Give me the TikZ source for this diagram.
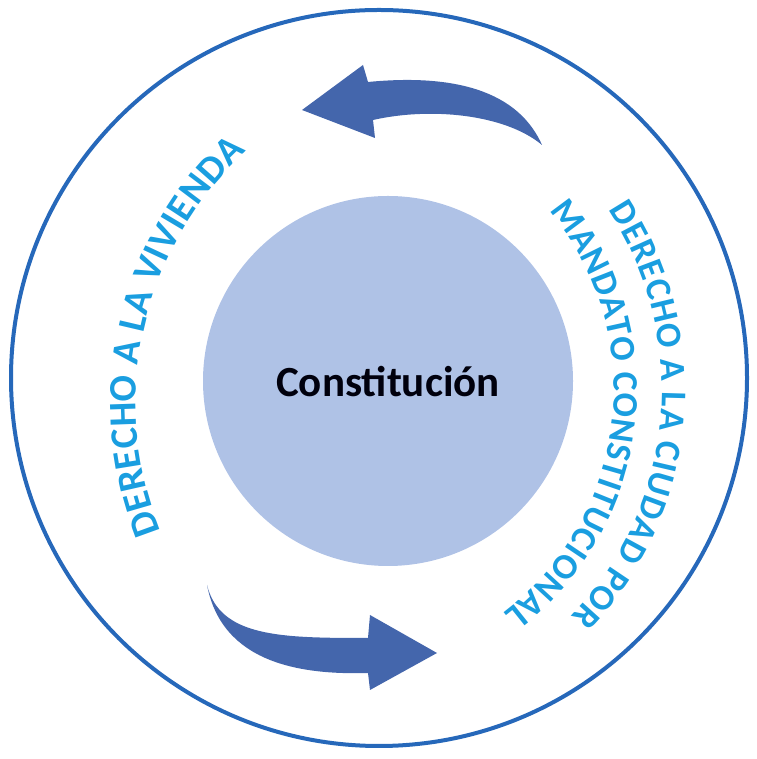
\documentclass[tikz,border=0pt]{standalone}
\usepackage{fontspec}
\setmainfont{Carlito}
\definecolor{ringblue}{RGB}{38,104,186}
\definecolor{coreblue}{RGB}{175,194,230}
\definecolor{arrowblue}{RGB}{68,102,172}
\definecolor{labelcyan}{RGB}{26,158,224}
\def\arcsize{38}
\newcommand{\arcfont}{\bfseries\fontsize{\arcsize}{\arcsize}\selectfont}

% letters set one by one along a clockwise arc, tops outward;
% '*' in the list stands for a word gap
\newlength{\chw}
\newlength{\chtotal}
\newcount\chn
\newcommand{\wordgap}{0.23\dimexpr\arcsize pt\relax}
\newcommand{\letterwidth}[1]{%
  \settowidth{\chw}{\pgfinterruptpicture\arcfont#1\endpgfinterruptpicture}}
\newcommand{\curvedlabel}[7]{% #1 name, #2 centre, #3 radius, #4 start, #5 end, #6 size, #7 letters
  \def\arcsize{#6}%
  \global\chtotal=0pt\relax
  \global\chn=0\relax
  \foreach \ch in {#7}{%
    \if\ch*\global\advance\chtotal by \wordgap\relax
    \else\letterwidth{\ch}\global\advance\chtotal by \chw\relax\fi
    \global\advance\chn by 1\relax
  }%
  \pgfmathsetmacro\trk{(((#4)-(#5))*pi/180*(#3)-\chtotal)/\the\chn}%
  \xdef\curang{#4}%
  \foreach \ch [count=\i] in {#7}{%
    \if\ch*\setlength{\chw}{\wordgap}\else\letterwidth{\ch}\fi
    \pgfmathsetmacro\half{(\chw+\trk)/2/(#3)*180/pi}%
    \pgfmathsetmacro\mid{\curang-\half}%
    \if\ch*\else
      \node[arcletter, rotate=\mid-90] (#1-\i) at ([shift={(\mid:#3)}]#2) {\ch};
    \fi
    \pgfmathsetmacro\nxt{\curang-2*\half}%
    \xdef\curang{\nxt}%
  }%
}

\begin{document}
\begin{tikzpicture}[x=1pt,y=1pt,
  arcarrow/.style={fill=arrowblue, draw=none},
  arcletter/.style={inner sep=0pt, anchor=base, font=\arcfont, text=labelcyan}
]
\useasboundingbox (0,0) rectangle (756,759);

% outer ring and central disc
\node[circle, draw=ringblue, line width=4pt, minimum size=736pt, inner sep=0pt] (ring) at (379,381) {};
\node[circle, fill=coreblue, minimum size=370pt, inner sep=0pt] (core) at (388,378) {};
\node[anchor=base, font=\bfseries\fontsize{43}{43}\selectfont, text=black!95!blue] (title) at (388,362) {Constitución};

% curved labels
\coordinate (lc) at (478,356);
\coordinate (rc) at (335,369);
\curvedlabel{viv}{lc}{342}{202}{132.5}{39}{D,E,R,E,C,H,O,*,A,*,L,A,*,V,I,V,I,E,N,D,A}
\curvedlabel{ciu}{rc}{327}{33.5}{-44}{36}{D,E,R,E,C,H,O,*,A,*,L,A,*,C,I,U,D,A,D,*,P,O,R}
\curvedlabel{man}{rc}{279}{40}{-53}{36}{M,A,N,D,A,T,O,*,C,O,N,S,T,I,T,U,C,I,O,N,A,L}

% curved arrows
\fill[arcarrow] (302,649) -- (363,694) -- (368,677)
  .. controls (440,684) and (515,675) .. (542,614)
  .. controls (505,645) and (430,652) .. (373,639)
  -- (375,621) -- cycle;
\fill[arcarrow] (207,174) .. controls (220,122) and (280,121) .. (368,121)
  -- (370,144) -- (437,106) -- (370,69) -- (368,86)
  .. controls (300,84) and (222,96) .. (207,174) -- cycle;
\end{tikzpicture}
\end{document}
